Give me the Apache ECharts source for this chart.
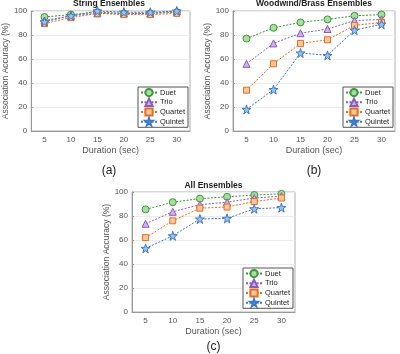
<!DOCTYPE html>
<html>
<head>
<meta charset="utf-8">
<script src="https://cdn.jsdelivr.net/npm/echarts@6/dist/echarts.min.js"></script>
<style>
html, body { margin: 0; padding: 0; background: #fff; }
#main { width: 400px; height: 354px; }
</style>
</head>
<body>
<div id="main"></div>
<script>
var durations = ['5', '10', '15', '20', '25', '30'];
var ensembles = ['Duet', 'Trio', 'Quartet', 'Quintet'];
var yTicks = [0, 20, 40, 60, 80, 100];

// accuracy (%) per ensemble size, one row per name in ensembles
var stringAcc = [
    [95, 97, 99, 98, 98, 99],
    [92, 96, 98, 98, 98, 100],
    [89.5, 94.5, 98, 97, 97, 98],
    [91, 96, 100, 99, 99, 100]
];
var woodAcc = [
    [77, 86, 90.5, 93, 96, 97],
    [56, 73, 81.5, 85, 92, 93],
    [34, 56, 73, 76, 88, 90.5],
    [18, 34.5, 65, 63, 84, 89]
];
var allAcc = [
    [85.5, 91.5, 94.5, 96, 97.5, 98.5],
    [73.5, 83.5, 89.5, 91.5, 95, 96.5],
    [62, 76, 86.5, 87.5, 92, 95],
    [53, 63.5, 77.5, 78, 86, 87]
];

var edgeColors = ['#3c963c', '#8c5abe', '#e66e1e', '#3c78c8'];
var fillColors = ['#aadca0', '#cdb4e6', '#fac8a0', '#a0c3eb'];
var star = 'path://M50,0 L61,35 L98,35 L68,57 L79,91 L50,70 L21,91 L32,57 L2,35 L39,35 Z';
var symbols = ['circle', 'triangle', 'rect', star];
var symbolSizes = [7, 7, 6, 9];

var font = 'Liberation Sans, Arial, Helvetica, sans-serif';

var panels = [
    { title: 'String Ensembles', tag: '(a)', data: stringAcc, left: 28, width: 162, top: 11, titleTop: -1, tagTop: 165 },
    { title: 'Woodwind/Brass Ensembles', tag: '(b)', data: woodAcc, left: 233, width: 162, top: 11, titleTop: -1, tagTop: 165 },
    { title: 'All Ensembles', tag: '(c)', data: allAcc, left: 132, width: 163, top: 192, titleTop: 181, tagTop: 341 }
];

var grids = [], xAxes = [], yAxes = [], titles = [], legends = [], series = [];

panels.forEach(function (p, i) {
    grids.push({
        left: p.left, top: p.top, width: p.width, height: 120,
        show: true, borderColor: '#b0b0b0', borderWidth: 1, backgroundColor: '#fff'
    });
    xAxes.push({
        type: 'category', gridIndex: i, data: durations, boundaryGap: true,
        name: 'Duration (sec)', nameLocation: 'middle', nameGap: 15,
        nameTextStyle: { fontFamily: font, fontSize: 9, color: '#555' },
        axisLine: { lineStyle: { color: '#999' } },
        axisTick: { inside: true, length: 2, alignWithLabel: true, lineStyle: { color: '#999' } },
        axisLabel: { fontFamily: font, fontSize: 8, color: '#555', margin: 5 }
    });
    yAxes.push({
        type: 'value', gridIndex: i, min: yTicks[0], max: yTicks[yTicks.length - 1], interval: 20,
        name: 'Association Accuracy (%)', nameLocation: 'middle', nameGap: 17,
        nameTextStyle: { fontFamily: font, fontSize: 8.5, color: '#555' },
        axisLine: { show: true, lineStyle: { color: '#999' } },
        axisTick: { show: true, inside: true, length: 2, lineStyle: { color: '#999' } },
        axisLabel: { fontFamily: font, fontSize: 8, color: '#555', margin: 4 },
        splitLine: { lineStyle: { color: '#ececec' } }
    });
    titles.push({
        text: p.title, left: p.left + p.width / 2, top: p.titleTop, textAlign: 'center', padding: 0,
        textStyle: { fontFamily: font, fontSize: 8.5, fontWeight: 'bold', color: '#222' }
    });
    titles.push({
        text: p.tag, left: p.left + p.width / 2, top: p.tagTop, textAlign: 'center', padding: 0,
        textStyle: { fontFamily: font, fontSize: 12, fontWeight: 'normal', color: '#222' }
    });
    legends.push({
        data: ensembles, orient: 'vertical',
        left: p.left + p.width - 52, top: p.top + 76,
        itemWidth: 16, itemHeight: 9, itemGap: 0.5,
        padding: [1, 3, 1, 2], borderColor: '#555', borderWidth: 1, borderRadius: 0,
        backgroundColor: '#fff',
        textStyle: { fontFamily: font, fontSize: 7.5, color: '#222', padding: [0, 0, 0, -2] },
        selectedMode: false
    });
    ensembles.forEach(function (name, k) {
        series.push({
            name: name, type: 'line', xAxisIndex: i, yAxisIndex: i,
            data: p.data[k],
            symbol: symbols[k], symbolSize: symbolSizes[k],
            lineStyle: { color: edgeColors[k], width: 1, type: [2, 1.5] },
            itemStyle: { color: fillColors[k], borderColor: edgeColors[k], borderWidth: 1 },
            z: 2 + k
        });
    });
});

var myChart = echarts.init(document.getElementById('main'));
var option = {
    animation: false,
    title: titles,
    legend: legends,
    grid: grids,
    xAxis: xAxes,
    yAxis: yAxes,
    series: series
};
myChart.setOption(option);
</script>
</body>
</html>
